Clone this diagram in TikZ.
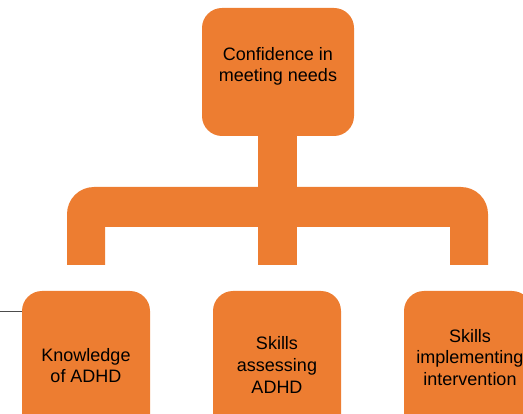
\documentclass[tikz,border=0pt]{standalone}
\usepackage{fontspec}
\setmainfont{Liberation Sans}
\usetikzlibrary{calc}
\definecolor{org}{HTML}{ED7D31}
\begin{document}
\begin{tikzpicture}[x=1pt,y=-1pt,
  box/.style={fill=org, draw=none, rounded corners=20pt, minimum width=128pt, minimum height=150pt, inner sep=0pt},
  lbl/.style={font=\fontsize{18}{21.6}\selectfont, align=center, text=black, inner sep=0pt},
  bracket/.style={fill=org, draw=none}]
\useasboundingbox (0,0) rectangle (523,414);
% top box
\node[box, minimum width=152pt, minimum height=128pt] (top) at (278,72) {};
\node[lbl] (toptext) at (278,66.5) {Confidence in\\meeting needs};
% bottom boxes
\node[box] (k1) at (86,366) {};
\node[box] (k2) at (277,366) {};
\node[box] (k3) at (468,366) {};
\node[lbl] (t1) at (86,365.5) {Knowledge\\of ADHD};
\node[lbl] (t2) at (277,365) {Skills\\assessing\\ADHD};
\node[lbl] (t3) at (470,357.5) {Skills\\implementing\\intervention};
% connector: stem and bracket
\coordinate (stemtop) at ($(top.south)+(-20,0)$);
\coordinate (stembot) at (296.5,265);
\fill[bracket] (stemtop) rectangle (stembot);
\fill[bracket] (67,265) -- (67,214) .. controls (67,199.1) and (79.1,187) .. (94,187)
  -- (461,187) .. controls (475.9,187) and (488,199.1) .. (488,214)
  -- (488,265) -- (450,265) -- (450,227) -- (105,227) -- (105,265) -- cycle;
% thin gray line at left
\coordinate (lstart) at (0,312);
\draw[black!70, line width=1pt] (lstart) -- (k1.west |- lstart);
\end{tikzpicture}
\end{document}
